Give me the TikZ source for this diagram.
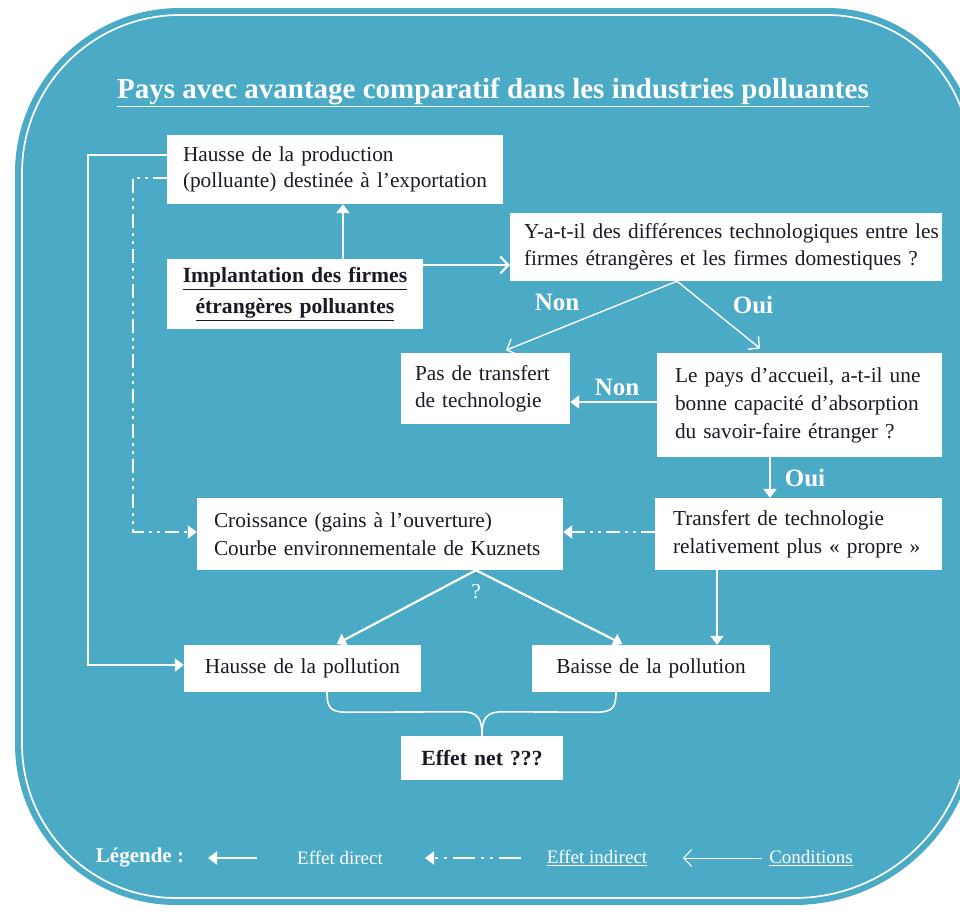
\documentclass[tikz,border=0pt]{standalone}
\usepackage{fontspec}
\setmainfont{Liberation Serif}
\usetikzlibrary{arrows.meta}
\definecolor{bgblue}{RGB}{75,171,198}
\definecolor{ink}{RGB}{28,24,38}
\newcommand\boxfont{\fontsize{21.3}{27}\selectfont}
\newcommand\titlefont{\fontsize{29}{32}\selectfont\bfseries}
\newcommand\lblfont{\fontsize{25}{28}\selectfont\bfseries}
\newcommand\legfont{\fontsize{19}{22}\selectfont}
\newcommand\lnx[1]{\mbox{#1}}
\begin{document}
\begin{tikzpicture}[x=1pt,y=-1pt,
  box/.style={fill=white, text=ink, inner ysep=0pt, font=\boxfont},
  direct/.style={draw=white, line width=2.2pt, -{Triangle[length=9pt,width=13pt]}},
  indirect/.style={draw=white, line width=2.2pt, dash pattern=on 14pt off 5pt on 3pt off 5pt on 3pt off 5pt, -{Triangle[length=9pt,width=13pt]}},
  cond/.style={draw=white, line width=1.4pt, -{Straight Barb[length=8pt,width=17pt]}},
  lbl/.style={text=white, font=\lblfont, inner sep=0pt}
]
\useasboundingbox (0,0) rectangle (960,911);
\clip (0,0) rectangle (960,911);
% background
\fill[bgblue] (15,450) [rounded corners=165pt] -- (15,8) [rounded corners=150pt] -- (977,8) [rounded corners=183pt] -- (977,905) [rounded corners=161pt] -- (15,905) [sharp corners] -- cycle;
\draw[white, line width=1.7pt] (22,450) [rounded corners=158pt] -- (22,15) [rounded corners=143pt] -- (970,15) [rounded corners=176pt] -- (970,898) [rounded corners=154pt] -- (22,898) [sharp corners] -- cycle;

% title
\node[text=white, font=\titlefont, inner sep=0pt] (title) at (493,92) {\underline{Pays avec avantage comparatif dans les industries polluantes}};

% boxes
\node[box, minimum width=336pt, minimum height=69pt, inner xsep=16pt, text width=304pt, align=left, font=\fontsize{21.3}{26}\selectfont] (hprod) at (335,169.5)
  {\lnx{Hausse de la production}\\\lnx{(polluante) destinée à l’exportation}};
\node[box, minimum width=256pt, minimum height=70pt, inner xsep=8pt, text width=240pt, align=center, font=\fontsize{21.6}{31}\selectfont\bfseries] (impl) at (295,294)
  {\underline{Implantation des firmes}\\\underline{étrangères polluantes}};
\node[box, minimum width=432pt, minimum height=68pt, inner xsep=14pt, text width=404pt, align=left] (q) at (726,247)
  {\lnx{Y-a-t-il des différences technologiques entre les}\\\lnx{firmes étrangères et les firmes domestiques ?}};
\node[box, minimum width=169pt, minimum height=71pt, inner xsep=14pt, text width=141pt, align=left] (pas) at (485.5,388.5)
  {\lnx{Pas de transfert}\\\lnx{de technologie}};
\node[box, minimum width=285pt, minimum height=104pt, inner xsep=18pt, text width=249pt, align=left, font=\fontsize{21.3}{28}\selectfont] (pays) at (799.5,405)
  {\lnx{Le pays d’accueil, a-t-il une}\\\lnx{bonne capacité d’absorption}\\\lnx{du savoir-faire étranger ?}};
\node[box, minimum width=287pt, minimum height=72pt, inner xsep=18pt, text width=251pt, align=left, font=\fontsize{21.3}{28}\selectfont] (transf) at (798.5,534)
  {\lnx{Transfert de technologie}\\\lnx{relativement plus «~propre~»}};
\node[box, minimum width=366pt, minimum height=72pt, inner xsep=17pt, text width=332pt, align=left, font=\fontsize{21.3}{28}\selectfont] (croiss) at (380,534)
  {\lnx{Croissance (gains à l’ouverture)}\\\lnx{Courbe environnementale de Kuznets}};
\node[box, minimum width=237pt, minimum height=47pt, inner xsep=8pt, text width=221pt, align=center] (hpoll) at (302.5,668.5)
  {Hausse de la pollution};
\node[box, minimum width=238pt, minimum height=47pt, inner xsep=8pt, text width=222pt, align=center] (bpoll) at (651,668.5)
  {Baisse de la pollution};
\node[box, minimum width=162pt, minimum height=44pt, inner xsep=6pt, text width=150pt, align=center, font=\fontsize{21.6}{24}\selectfont\bfseries] (effet) at (482,758)
  {Effet net ???};

% connectors
\coordinate (a1) at ([xshift=48pt]impl.north);
\draw[direct] (a1) -- (a1 |- hprod.south);
\coordinate (a2) at ([yshift=29pt]impl.east);
\draw[cond, line width=2.2pt] (a2) -- (a2 -| q.west);
\coordinate (qs) at ([xshift=-49pt]q.south);
\draw[cond, shorten >=7pt] (qs) -- ([xshift=14pt]pas.north);
\draw[cond, shorten >=7pt] (qs) -- ([xshift=-34pt]pays.north);
\coordinate (a3) at ([yshift=3pt]pays.west);
\draw[direct] (a3) -- (a3 -| pas.east);
\coordinate (a4) at ([xshift=-29.5pt]pays.south);
\draw[direct] (a4) -- (a4 |- transf.north);
\coordinate (a5) at ([yshift=2pt]transf.west);
\draw[indirect] (a5) -- (a5 -| croiss.east);
% left lines
\coordinate (lx) at (88,0);
\coordinate (dx) at (133,0);
\coordinate (s1) at ([yshift=14.5pt]hprod.west);
\coordinate (s2) at ([yshift=3.5pt]hpoll.west);
\draw[direct] (s1) -- (s1 -| lx) -- (s2 -| lx) -- (s2);
\coordinate (d1) at ([yshift=-8.5pt]hprod.west);
\coordinate (d2) at ([yshift=2pt]croiss.west);
\draw[indirect] (d1) -- (d1 -| dx) -- (d2 -| dx) -- (d2);
% from croissance
\coordinate (cs) at ([xshift=96pt]croiss.south);
\draw[direct, shorten >=2pt] (cs) -- ([xshift=32.5pt]hpoll.north);
\draw[direct, shorten >=2pt] (cs) -- ([xshift=-27pt]bpoll.north);
\coordinate (ts) at ([xshift=-81.5pt]transf.south);
\draw[direct] (ts) -- (ts |- bpoll.north);
% brace
\coordinate (b1) at ([xshift=24.5pt]hpoll.south);
\coordinate (b2) at ([xshift=-35pt]bpoll.south);
\draw[white, line width=1.6pt] (b1) .. controls ([yshift=-15pt]b1) and ([xshift=3pt,yshift=-20pt]b1) .. ([xshift=20pt,yshift=-20pt]b1)
  -- ([xshift=-20pt,yshift=24pt]effet.north) .. controls ([xshift=-3pt,yshift=24pt]effet.north) and ([yshift=16pt]effet.north) .. (effet.north);
\draw[white, line width=1.6pt] (b2) .. controls ([yshift=-15pt]b2) and ([xshift=-3pt,yshift=-20pt]b2) .. ([xshift=-20pt,yshift=-20pt]b2)
  -- ([xshift=20pt,yshift=24pt]effet.north) .. controls ([xshift=3pt,yshift=24pt]effet.north) and ([yshift=16pt]effet.north) .. (effet.north);

% labels
\node[lbl] (non1) at (557,302) {Non};
\node[lbl] (oui1) at (753,305) {Oui};
\node[lbl] (non2) at (617,387) {Non};
\node[lbl] (oui2) at (805,478) {Oui};
\node[text=white, font=\boxfont, inner sep=0pt] (qm) at (476,592) {?};

% legend
\node[text=white, font=\fontsize{21}{24}\selectfont\bfseries, inner sep=0pt] (leg) at (140,858) {Légende :};
\coordinate (l1s) at (257,858); \coordinate (l1e) at (208,858);
\draw[direct, line width=2.6pt] (l1s) -- (l1e);
\node[text=white, font=\legfont, inner sep=0pt] (ld) at (340,858) {Effet direct};
\coordinate (l2s) at (521,858); \coordinate (l2e) at (425,858);
\draw[indirect, line width=2.6pt, dash pattern=on 22pt off 6pt on 3pt off 6pt on 3pt off 6pt] (l2s) -- (l2e);
\node[text=white, font=\legfont, inner sep=0pt] (li) at (597,858) {\underline{Effet indirect}};
\coordinate (l3s) at (762,858); \coordinate (l3e) at (683,858);
\draw[cond, line width=1pt] (l3s) -- (l3e);
\node[text=white, font=\legfont, inner sep=0pt] (lc) at (811,858) {\underline{Conditions}};
\end{tikzpicture}
\end{document}
